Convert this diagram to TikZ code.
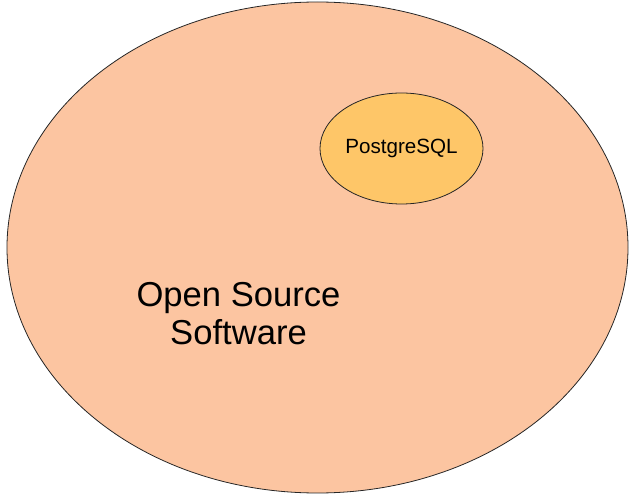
\documentclass[tikz,border=0pt]{standalone}
\usepackage{fontspec}
\setmainfont{Liberation Sans}
\usetikzlibrary{shapes.geometric,positioning}
\definecolor{PeachOSS}{RGB}{252,197,161}
\definecolor{AmberPG}{RGB}{254,198,104}

\begin{document}
\begin{tikzpicture}[
  x=1pt, y=-1pt,
  blob/.style={ellipse, draw=black!85, line width=0.8pt, inner sep=0pt},
  osslabel/.style={font=\fontsize{34.6}{38}\selectfont, align=center},
  pglabel/.style={font=\fontsize{20.6}{24}\selectfont}
]
\useasboundingbox (0,0) rectangle (630,494);

% Open source software
\node[blob, fill=PeachOSS, minimum width=621pt, minimum height=491pt] (oss) at (317.5,247.5) {};
\node[osslabel] (osstext) at (238.5,313.5) {Open Source\\Software};

% PostgreSQL
\node[blob, fill=AmberPG, minimum width=163pt, minimum height=111pt, pglabel] (pg) at (401.5,148.5) {PostgreSQL};

\end{tikzpicture}
\end{document}
